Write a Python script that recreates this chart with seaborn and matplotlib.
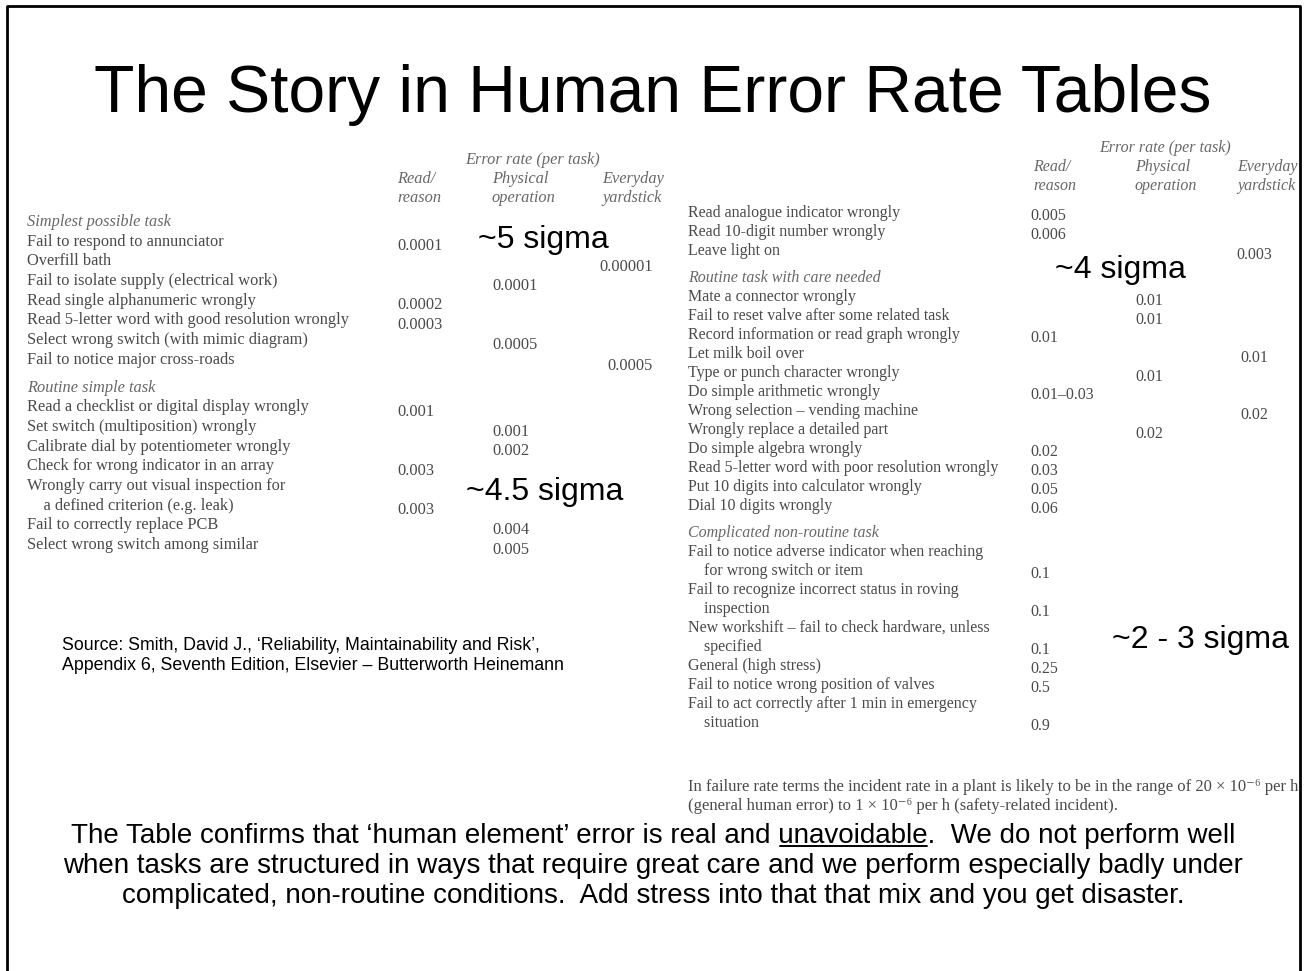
import numpy as np
import pandas as pd
import seaborn as sns
import matplotlib.pyplot as plt

# ---- table data (Smith, Appendix 6) ----
left_groups = ["Simplest possible task"] * 7 + ["Routine simple task"] * 7
left_tasks = [
    "Fail to respond to annunciator",
    "Overfill bath",
    "Fail to isolate supply (electrical work)",
    "Read single alphanumeric wrongly",
    "Read 5-letter word with good resolution wrongly",
    "Select wrong switch (with mimic diagram)",
    "Fail to notice major cross-roads",
    "Read a checklist or digital display wrongly",
    "Set switch (multiposition) wrongly",
    "Calibrate dial by potentiometer wrongly",
    "Check for wrong indicator in an array",
    "Wrongly carry out visual inspection for\n    a defined criterion (e.g. leak)",
    "Fail to correctly replace PCB",
    "Select wrong switch among similar",
]
left_read = ["0.0001", "", "", "0.0002", "0.0003", "", "",
             "0.001", "", "", "0.003", "0.003", "", ""]
left_phys = ["", "", "0.0001", "", "", "0.0005", "",
             "", "0.001", "0.002", "", "", "0.004", "0.005"]
left_every = ["", "0.00001", "", "", "", "", "0.0005",
              "", "", "", "", "", "", ""]

right_groups = [""] * 3 + ["Routine task with care needed"] * 12 + ["Complicated non-routine task"] * 6
right_tasks = [
    "Read analogue indicator wrongly",
    "Read 10-digit number wrongly",
    "Leave light on",
    "Mate a connector wrongly",
    "Fail to reset valve after some related task",
    "Record information or read graph wrongly",
    "Let milk boil over",
    "Type or punch character wrongly",
    "Do simple arithmetic wrongly",
    "Wrong selection \u2013 vending machine",
    "Wrongly replace a detailed part",
    "Do simple algebra wrongly",
    "Read 5-letter word with poor resolution wrongly",
    "Put 10 digits into calculator wrongly",
    "Dial 10 digits wrongly",
    "Fail to notice adverse indicator when reaching\n    for wrong switch or item",
    "Fail to recognize incorrect status in roving\n    inspection",
    "New workshift \u2013 fail to check hardware, unless\n    specified",
    "General (high stress)",
    "Fail to notice wrong position of valves",
    "Fail to act correctly after 1 min in emergency\n    situation",
]
right_read = ["0.005", "0.006", "",
              "", "", "0.01", "", "", "0.01\u20130.03", "", "", "0.02", "0.03", "0.05", "0.06",
              "0.1", "0.1", "0.1", "0.25", "0.5", "0.9"]
right_phys = ["", "", "",
              "0.01", "0.01", "", "", "0.01", "", "", "0.02", "", "", "", "",
              "", "", "", "", "", ""]
right_every = ["", "", "0.003",
               "", "", "", "0.01", "", "", "0.02", "", "", "", "", "",
               "", "", "", "", "", ""]

sigma_labels = ["~5 sigma", "~4.5 sigma", "~4 sigma", "~2 - 3 sigma"]

title = "The Story in Human Error Rate Tables"
source_lines = ["Source: Smith, David J., \u2018Reliability, Maintainability and Risk\u2019,",
                "Appendix 6, Seventh Edition, Elsevier \u2013 Butterworth Heinemann"]
footnote_lines = ["In failure rate terms the incident rate in a plant is likely to be in the range of 20 \u00d7 10\u207b\u2076 per h",
                  "(general human error) to 1 \u00d7 10\u207b\u2076 per h (safety-related incident)."]
para_pre = "The Table confirms that \u2018human element\u2019 error is real and "
para_word = "unavoidable"
para_post = ".  We do not perform well"
para_lines = [para_pre + para_word + para_post,
              "when tasks are structured in ways that require great care and we perform especially badly under",
              "complicated, non-routine conditions.  Add stress into that that mix and you get disaster."]

left_df = pd.DataFrame({"group": left_groups, "task": left_tasks, "read": left_read,
                        "phys": left_phys, "every": left_every})
right_df = pd.DataFrame({"group": right_groups, "task": right_tasks, "read": right_read,
                         "phys": right_phys, "every": right_every})

sns.set_theme(style="white")
plt.rcParams['font.family'] = ['Liberation Sans', 'DejaVu Sans']

fig = plt.figure(figsize=(13.07, 9.71), dpi=100)
ax = fig.add_axes([0, 0, 1, 1])
ax.set_xlim(0, 1307)
ax.set_ylim(971, 0)
ax.axis('off')

# slide frame
ax.plot([7, 7, 1300, 1300], [990, 6, 6, 990], color='black', lw=2, clip_on=False)

ax.text(653, 112, title, ha='center', va='baseline', fontsize=47.5, color='black')

BODY = '#4a4a4a'
HEAD = '#686868'
SERIF = ['Liberation Serif', 'DejaVu Serif']


def draw_table(df, x0, y0, step, gap, cols, fs, skew):
    y = y0
    prev = None
    for _, row in df.iterrows():
        if row['group'] != prev:
            if prev is not None:
                y += gap
            if row['group']:
                ax.text(x0, y, row['group'], ha='left', va='center', fontsize=fs,
                        style='italic', color=HEAD, family=SERIF)
                y += step
            prev = row['group']
        for line in row['task'].split('\n'):
            ax.text(x0, y, line, ha='left', va='center', fontsize=fs, color=BODY, family=SERIF)
            y += step
        yv = y - step
        for key, (cx, ha) in cols.items():
            if row[key]:
                ax.text(cx, yv + 2 + skew * (cx - x0), row[key], ha=ha, va='center',
                        fontsize=fs, color=BODY, family=SERIF)
    return y


def draw_header(y_top, cols_hdr, err_x, fs):
    ax.text(err_x, y_top, "Error rate (per task)", ha='center', va='center', fontsize=fs,
            style='italic', color=HEAD, family=SERIF)
    for (x, l1, l2) in cols_hdr:
        ax.text(x, y_top + 19, l1, ha='left', va='center', fontsize=fs, style='italic',
                color=HEAD, family=SERIF)
        ax.text(x, y_top + 38, l2, ha='left', va='center', fontsize=fs, style='italic',
                color=HEAD, family=SERIF)


# left table
draw_header(160, [(397, "Read/", "reason"), (492, "Physical", "operation"),
                  (602, "Everyday", "yardstick")], 533, 11.8)
draw_table(left_df, 27, 222, 19.7, 8,
           {"read": (397, 'left'), "phys": (492, 'left'), "every": (653, 'right')}, 11.8, 0.006)

# right table
draw_header(148, [(1033, "Read/", "reason"), (1135, "Physical", "operation"),
                  (1237, "Everyday", "yardstick")], 1165, 11.5)
draw_table(right_df, 688, 213, 19.0, 8,
           {"read": (1030, 'left'), "phys": (1135, 'left'), "every": (1254, 'center')}, 11.5, 0.004)

for i, line in enumerate(footnote_lines):
    ax.text(688, 787 + 19 * i, line, ha='left', va='center', fontsize=12, color=BODY, family=SERIF)

# sigma annotations
for lab, (sx, sy) in zip(sigma_labels, [(478, 248), (466, 500), (1055, 278), (1112, 648)]):
    ax.text(sx, sy, lab, ha='left', va='baseline', fontsize=23, color='black')

for i, line in enumerate(source_lines):
    ax.text(62, 646 + 20 * i, line, ha='left', va='center', fontsize=12.8, color='black')

# closing paragraph, with underlined word
para_texts = []
for i, line in enumerate(para_lines):
    t = ax.text(653, 843 + 30 * i, line, ha='center', va='baseline', fontsize=20, color='black')
    para_texts.append(t)

fig.canvas.draw()
r = fig.canvas.get_renderer()
full = para_texts[0].get_window_extent(r)
probe = ax.text(0, 500, para_pre, fontsize=20)
w1 = probe.get_window_extent(r).width
probe.set_text(para_pre + para_word)
w2 = probe.get_window_extent(r).width
probe.remove()
ax.plot([full.x0 + w1 + 2, full.x0 + w2], [846, 846], color='black', lw=1.4)

fig.savefig('out.png', dpi=100)
